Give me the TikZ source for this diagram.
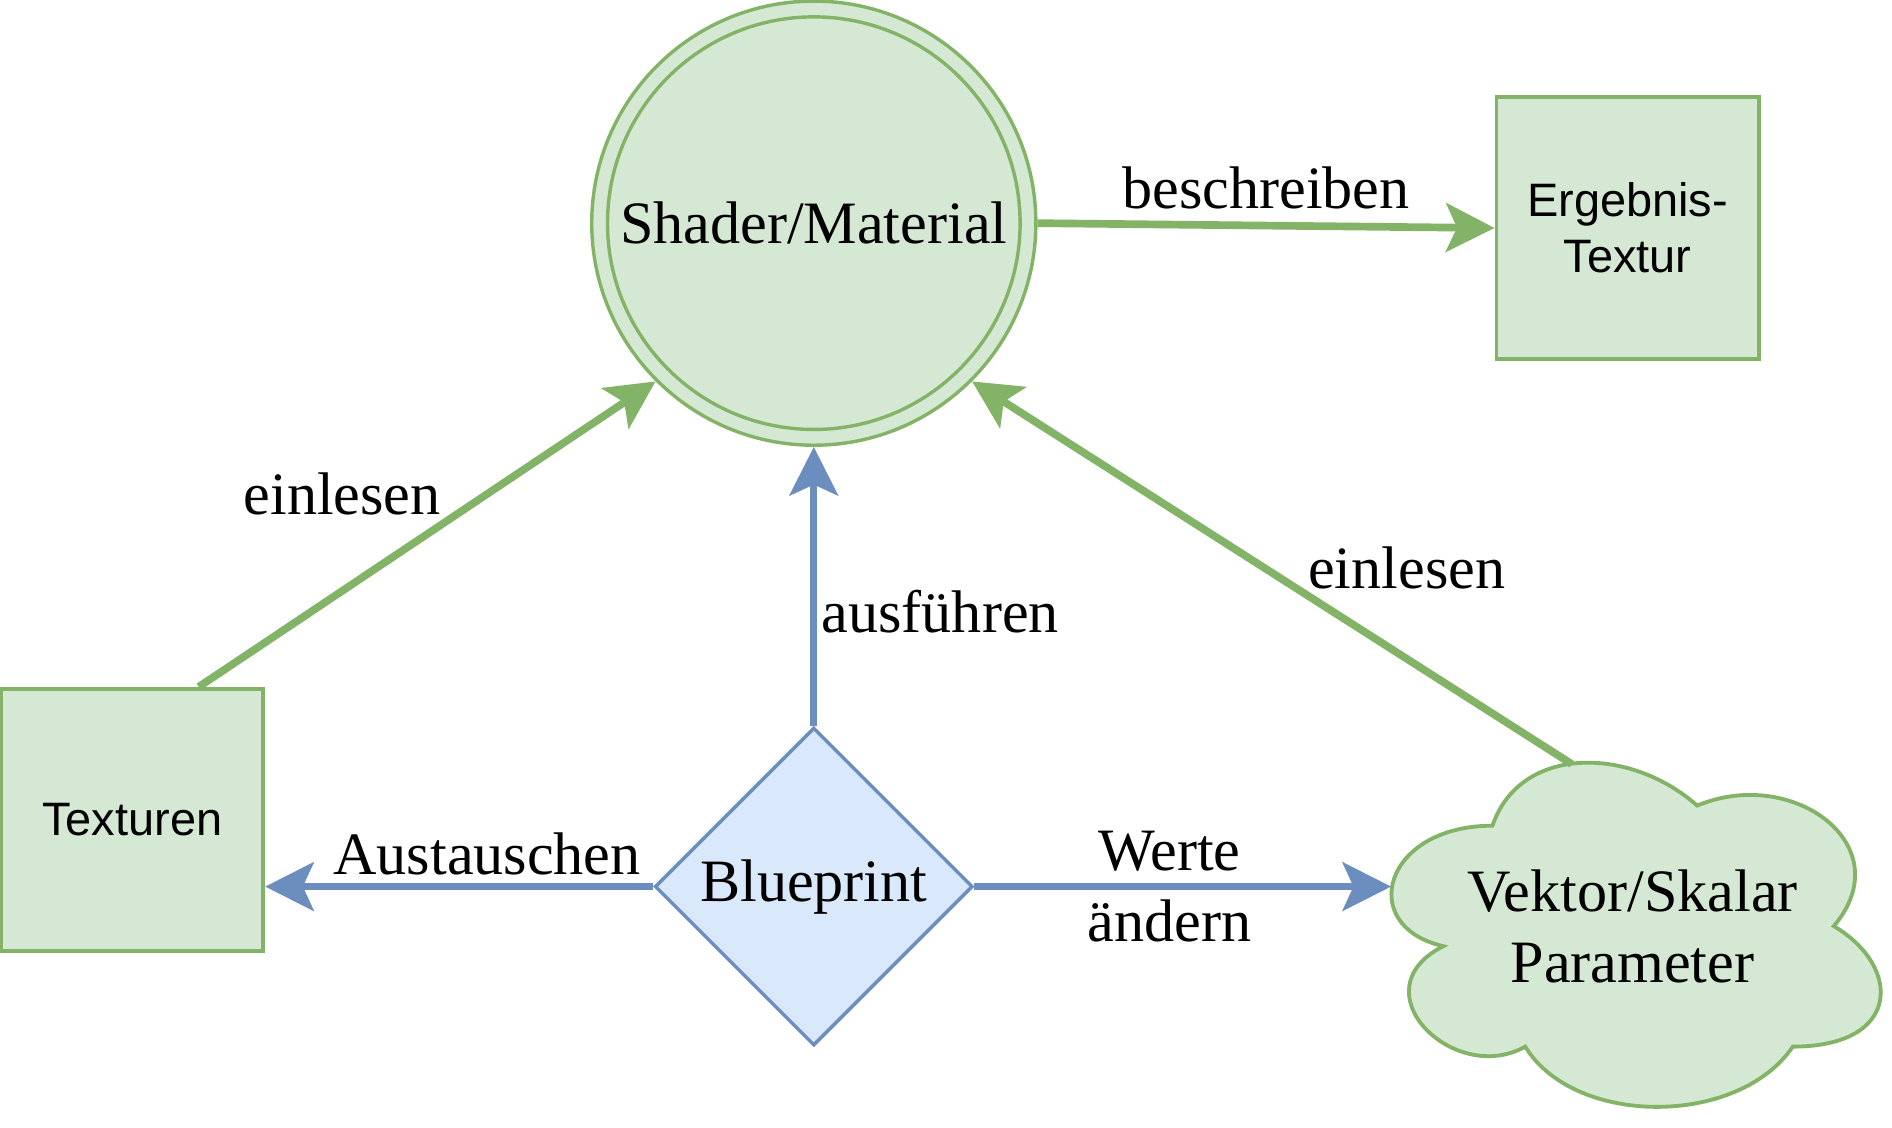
\documentclass[tikz,border=0pt]{standalone}
\usepackage{fontspec}
\setmainfont{Liberation Serif}
\setsansfont{Liberation Sans}
\usepackage{tikz}
\usetikzlibrary{shapes.geometric,arrows.meta,calc}
\definecolor{greenfill}{HTML}{D5E8D4}
\definecolor{greenline}{HTML}{82B366}
\definecolor{bluefill}{HTML}{DAE8FC}
\definecolor{blueline}{HTML}{6C8EBF}

\begin{document}
\begin{tikzpicture}[x=0.01cm, y=-0.01cm,
        box/.style={draw=greenline, fill=greenfill, line width=0.9pt, minimum size=2.16cm, inner sep=0pt, font=\sffamily\fontsize{11}{13.1}\selectfont, align=center},
        lbl/.style={font=\fontsize{14.1}{16.7}\selectfont, align=center, inner sep=0pt},
        greenarrow/.style={draw=greenline, line width=1.8pt, -{Stealth[length=0.4cm, width=0.4cm, inset=0.09cm]}},
        bluearrow/.style={draw=blueline, line width=1.7pt, -{Stealth[length=0.4cm, width=0.4cm, inset=0.09cm]}}]
            \useasboundingbox (0,0) rectangle (1560,930);
            \node[circle, draw=greenline, fill=greenfill, line width=0.8pt, minimum size=3.66cm, lbl] (shader) at (671,184) {Shader/Material};
            \draw[greenline, line width=0.8pt] (shader.center) circle[radius=1.70cm];
            \node[box] (ergebnis) at (1342,188) {Ergebnis-\\Textur};
            \node[box] (texturen) at (109,676) {Texturen};
            \node[diamond, draw=blueline, fill=bluefill, line width=0.8pt, minimum width=2.62cm, minimum height=2.62cm, lbl] (blueprint) at (671,731) {Blueprint};
            \begin{scope}[shift={(1118,598)}, x=4.5cm, y=-3.31cm]
                \draw[draw=greenline, fill=greenfill, line width=0.9pt] (0.25,0.25) .. controls (0.05,0.25) and (0,0.5) .. (0.16,0.55) .. controls (0,0.66) and (0.18,0.9) .. (0.31,0.8) .. controls (0.4,1) and (0.7,1) .. (0.8,0.8) .. controls (1,0.8) and (1,0.6) .. (0.875,0.5) .. controls (1,0.3) and (0.8,0.1) .. (0.625,0.2) .. controls (0.5,0.05) and (0.3,0.05) .. (0.25,0.25) -- cycle;
            \end{scope}
            \node[lbl] (param) at (1346,764) {Vektor/Skalar\\Parameter};
            \coordinate (param-w) at (1147,731);
            \coordinate (param-n) at (1296,630);
            \draw[greenarrow] (shader.east) -- (ergebnis.west) node[lbl, midway, anchor=base, yshift=0.14cm] {beschreiben};
            \draw[greenarrow] ($(texturen.north west)!0.75!(texturen.north east)$) -- (shader.225) node[lbl, midway, xshift=-0.7cm, yshift=0.33cm] {einlesen};
            \draw[greenarrow] (param-n) -- (shader.-45) node[lbl, midway, xshift=1.11cm, yshift=0.04cm] {einlesen};
            \draw[bluearrow] (blueprint.north) -- (shader.south) node[lbl, pos=0.41, anchor=west, xshift=1pt] {ausführen};
            \draw[bluearrow] (blueprint.west) -- (blueprint.west -| texturen.east) node[lbl, midway, anchor=base, xshift=0.23cm, yshift=0.1cm] {Austauschen};
            \draw[bluearrow] (blueprint.east) -- (param-w) node[lbl, midway, xshift=-0.11cm] {Werte\\ändern};
        \end{tikzpicture}
\end{document}
